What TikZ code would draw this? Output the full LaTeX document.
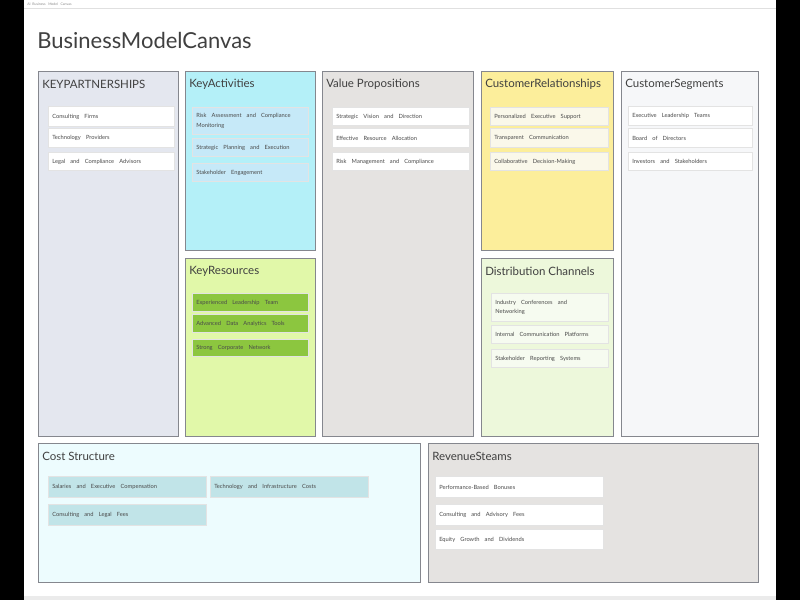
\documentclass[tikz,border=0pt]{standalone}
\usepackage{fontspec}
\setmainfont{Lato}
\definecolor{pagebg}{HTML}{FFFFFF}
\definecolor{framec}{HTML}{85878E}
\definecolor{titlec}{HTML}{404040}
\definecolor{itemc}{HTML}{4A4A4A}
\definecolor{kpfill}{HTML}{E4E7EF}
\definecolor{kafill}{HTML}{B4F0F8}
\definecolor{krfill}{HTML}{E1F8A9}
\definecolor{vpfill}{HTML}{E5E3E1}
\definecolor{crfill}{HTML}{FCEE9B}
\definecolor{dcfill}{HTML}{EDF8DB}
\definecolor{csfill}{HTML}{F6F7F9}
\definecolor{cofill}{HTML}{EDFCFE}
\definecolor{rsfill}{HTML}{E5E3E1}
\definecolor{kaitem}{HTML}{C6E9F8}
\definecolor{kritem}{HTML}{8CC63F}
\definecolor{critem}{HTML}{FAF8EA}
\definecolor{dcitem}{HTML}{F6FBF0}
\definecolor{coitem}{HTML}{C1E4E8}
\tikzset{
  panelbox/.style={draw=framec, line width=0.65pt},
  paneltitle/.style={anchor=west, inner sep=0pt, text=titlec, font=\fontsize{8.6}{10}\selectfont},
  itembox/.style={draw=black!11, line width=0.45pt},
  itemtext/.style={anchor=west, inner sep=0pt, text=itemc, align=left,
     font=\fontsize{4.3}{7.2}\selectfont},
}
\newcommand\bpanel[7]{%
  \draw[panelbox, fill=#6] (#2,#3) rectangle (#4,#5);
  \node[paneltitle] (#1) at (#2+4,#3+13.5) {#7};}
\newcommand\bitem[7]{%
  \pgfmathsetmacro\bmidy{(#3+#5)/2+0.5}%
  \draw[itembox, fill=#6] (#2,#3) rectangle (#4,#5);
  \node[itemtext] (#1) at (#2+4,\bmidy) {\spaceskip=0.9em plus 0.2em\relax #7};}
\begin{document}
\begin{tikzpicture}[x=0.75pt,y=-0.75pt]
\useasboundingbox (0,0) rectangle (800,600);
\fill[black] (0,0) rectangle (800,600);
\fill[pagebg] (24,0) rectangle (776,598);
\fill[black!8] (24,596) rectangle (776,600);
\draw[black!12, line width=0.5pt] (24,8) -- (776,8);
\node[anchor=west, inner sep=0pt, text=black!45, font=\fontsize{2.6}{3}\selectfont] (topbar) at (27,4) {AI\ \ Business\ \ \ Model\ \ \ Canvas};
\node[anchor=west, inner sep=0pt, text=titlec, font=\fontsize{16.5}{20}\selectfont] (maintitle) at (37,40.5) {BusinessModelCanvas};

% panels
\bpanel{kp}{38}{71}{178}{436}{kpfill}{KEYPARTNERSHIPS}
\bpanel{ka}{185}{71}{315}{250}{kafill}{KeyActivities}
\bpanel{kr}{185}{258}{315}{436}{krfill}{KeyResources}
\bpanel{vp}{322}{71}{473}{436}{vpfill}{Value Propositions}
\bpanel{cr}{481}{71}{613}{250}{crfill}{CustomerRelationships}
\bpanel{dc}{481}{258}{613}{436}{dcfill}{Distribution Channels}
\bpanel{cs}{621}{71}{758}{436}{csfill}{CustomerSegments}
\bpanel{co}{38}{443}{420}{582}{cofill}{Cost Structure}
\bpanel{rs}{428}{443}{758}{582}{rsfill}{RevenueSteams}

% key partnerships
\bitem{kp1}{48}{106}{174}{126}{white}{Consulting Firms}
\bitem{kp2}{48}{128}{174}{147}{white}{Technology Providers}
\bitem{kp3}{48}{152}{174}{170}{white}{Legal and Compliance Advisors}
% key activities
\bitem{ka1}{192}{107}{308}{134}{kaitem}{Risk Assessment and Compliance\\Monitoring}
\bitem{ka2}{192}{138}{308}{156}{kaitem}{Strategic Planning and Execution}
\bitem{ka3}{192}{163}{308}{181}{kaitem}{Stakeholder Engagement}
% key resources
\bitem{kr1}{192}{293}{308}{311}{kritem}{Experienced Leadership Team}
\bitem{kr2}{192}{314}{308}{332}{kritem}{Advanced Data Analytics Tools}
\bitem{kr3}{192}{339}{308}{356}{kritem}{Strong Corporate Network}
% value propositions
\bitem{vp1}{332}{107}{469}{125}{white}{Strategic Vision and Direction}
\bitem{vp2}{332}{128}{469}{147}{white}{Effective Resource Allocation}
\bitem{vp3}{332}{152}{469}{170}{white}{Risk Management and Compliance}
% customer relationships
\bitem{cr1}{490}{107}{608}{125}{critem}{Personalized Executive Support}
\bitem{cr2}{490}{128}{608}{147}{critem}{Transparent Communication}
\bitem{cr3}{490}{152}{608}{170}{critem}{Collaborative Decision-Making}
% distribution channels
\bitem{dc1}{491}{293}{608}{321}{dcitem}{Industry Conferences and\\Networking}
\bitem{dc2}{491}{325}{608}{343}{dcitem}{Internal Communication Platforms}
\bitem{dc3}{491}{349}{608}{367}{dcitem}{Stakeholder Reporting Systems}
% customer segments
\bitem{cs1}{628}{106}{752}{125}{white}{Executive Leadership Teams}
\bitem{cs2}{628}{128}{752}{147}{white}{Board of Directors}
\bitem{cs3}{628}{152}{752}{170}{white}{Investors and Stakeholders}
% cost structure
\bitem{co1}{48}{476}{206}{497}{coitem}{Salaries and Executive Compensation}
\bitem{co2}{210}{476}{368}{497}{coitem}{Technology and Infrastructure Costs}
\bitem{co3}{48}{504}{206}{525}{coitem}{Consulting and Legal Fees}
% revenue streams
\bitem{rs1}{435}{476}{603}{497}{white}{Performance-Based Bonuses}
\bitem{rs2}{435}{504}{603}{525}{white}{Consulting and Advisory Fees}
\bitem{rs3}{435}{529}{603}{549}{white}{Equity Growth and Dividends}
\end{tikzpicture}
\end{document}
